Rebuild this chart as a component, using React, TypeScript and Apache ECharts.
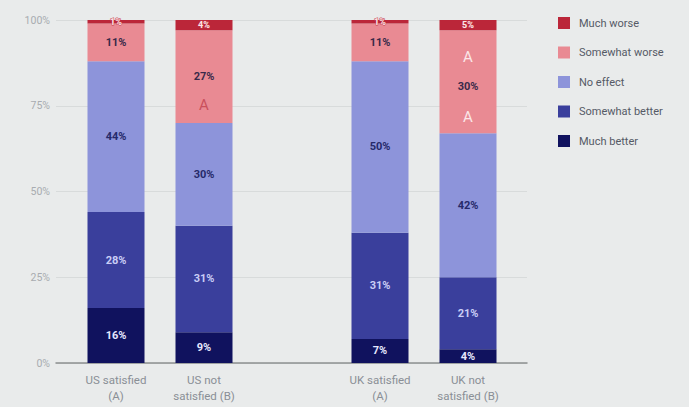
import React, { useEffect, useRef } from "react";
import * as echarts from "echarts";

const categories = ["US satisfied\n(A)", "US not\nsatisfied (B)", "", "UK satisfied\n(A)", "UK not\nsatisfied (B)"];
const muchBetter = [16, 9, null, 7, 4];
const somewhatBetter = [28, 31, null, 31, 21];
const noEffect = [44, 30, null, 50, 42];
const somewhatWorse = [11, 27, null, 11, 30];
const muchWorse = [1, 4, null, 1, 5];
// significance notes on "Somewhat worse": where the letter "A" is shown
const worseNotes = ["", "below", "", "", "both"];
const yTicks = [0, 25, 50, 75, 100];

const FONT = "Roboto, 'Noto Sans', sans-serif";

export default function App() {
  const ref = useRef<HTMLDivElement>(null);
  useEffect(() => {
    if (!ref.current) return;
    const chart = echarts.init(ref.current, null, { renderer: "svg" });
    const baseLabel = (color: string) => ({
      show: true,
      position: "inside",
      color,
      fontSize: 11,
      fontWeight: "bold",
      fontFamily: FONT,
      formatter: (p: any) => (p.value == null ? "" : p.value + "%"),
    });
    const mk = (name: string, data: (number | null)[], color: string, label: any) => ({
      name,
      type: "bar",
      stack: "total",
      xAxisIndex: 1,
      yAxisIndex: 1,
      barWidth: 57,
      data: data.map((v) => (v == null ? "-" : v)),
      itemStyle: { color },
      label,
      emphasis: { disabled: true },
    });
    const worseLabel = {
      ...baseLabel("#3a2a4a"),
      formatter: (p: any) => {
        if (p.value == null || p.value === "-") return "";
        const note = worseNotes[p.dataIndex];
        if (note === "below") return `{v|${p.value}%}\n{a|A}`;
        if (note === "both") return `{w|A}\n{v|${p.value}%}\n{w|A}`;
        return `{v|${p.value}%}`;
      },
      rich: {
        v: { fontSize: 11, fontWeight: "bold", color: "#3a2a4a", fontFamily: FONT, lineHeight: 28 },
        a: { fontSize: 15, fontWeight: "normal", color: "#c9505c", fontFamily: FONT, lineHeight: 28 },
        w: { fontSize: 15, fontWeight: "normal", color: "#fbe6e8", fontFamily: FONT, lineHeight: 32 },
      },
    };
    const option: any = {
      animation: false,
      backgroundColor: "#e9ebeb",
      textStyle: { fontFamily: FONT },
      legend: {
        orient: "vertical",
        left: 553,
        top: 12,
        itemWidth: 12,
        itemHeight: 12,
        itemGap: 17.5,
        icon: "rect",
        data: ["Much worse", "Somewhat worse", "No effect", "Somewhat better", "Much better"],
        textStyle: { color: "#555a66", fontSize: 11, fontFamily: FONT, padding: [0, 0, 0, 4] },
        selectedMode: false,
      },
      grid: [
        { left: 56, right: 162, top: 20, bottom: 44 },
        { left: 72, right: 177, top: 20, bottom: 44 },
      ],
      xAxis: [
        {
          gridIndex: 0,
          type: "value",
          min: 0,
          max: 1,
          axisLine: { show: true, lineStyle: { color: "#8c9090", width: 1.5 } },
          axisTick: { show: false },
          axisLabel: { show: false },
          splitLine: { show: false },
        },
        {
          gridIndex: 1,
          type: "category",
          data: categories,
          axisLine: { show: false },
          axisTick: { show: false },
          axisLabel: { interval: 0, color: "#8a8f96", fontSize: 11.5, lineHeight: 16, margin: 9, fontFamily: FONT },
        },
      ],
      yAxis: [
        {
          gridIndex: 0,
          type: "value",
          min: 0,
          max: 100,
          interval: 25,
          axisLine: { show: false },
          axisTick: { show: false },
          axisLabel: {
            color: "#a8acb0",
            fontSize: 10.5,
            margin: 6,
            fontFamily: FONT,
            formatter: (v: number) => (yTicks.includes(v) ? v + "%" : ""),
          },
          splitLine: { lineStyle: { color: "#d8dbdb", width: 1 } },
        },
        { gridIndex: 1, type: "value", min: 0, max: 100, show: false },
      ],
      series: [
        mk("Much better", muchBetter, "#10125e", baseLabel("#e6e8ff")),
        mk("Somewhat better", somewhatBetter, "#3a3f9c", baseLabel("#c9cdf6")),
        mk("No effect", noEffect, "#8d94da", baseLabel("#262a6a")),
        mk("Somewhat worse", somewhatWorse, "#e98a93", worseLabel),
        mk("Much worse", muchWorse, "#bb2639", {
          ...baseLabel("#fde8ea"),
          fontSize: 9,
          textBorderColor: "#c33a4a",
          textBorderWidth: 1,
        }),
      ].map((s: any) => {
        if (s.name !== "Somewhat worse") return s;
        return {
          ...s,
          data: s.data.map((v: any, i: number) => {
            const note = worseNotes[i];
            if (note === "below") return { value: v, label: { offset: [0, 14] } };
            if (note === "both") return { value: v, label: { offset: [0, 5] } };
            return v;
          }),
        };
      }),
    };
    chart.setOption(option);
    return () => chart.dispose();
  }, []);
  return (
    <div
      ref={ref}
      style={{ position: "fixed", left: 0, top: 0, width: 689, height: 407 }}
    />
  );
}
